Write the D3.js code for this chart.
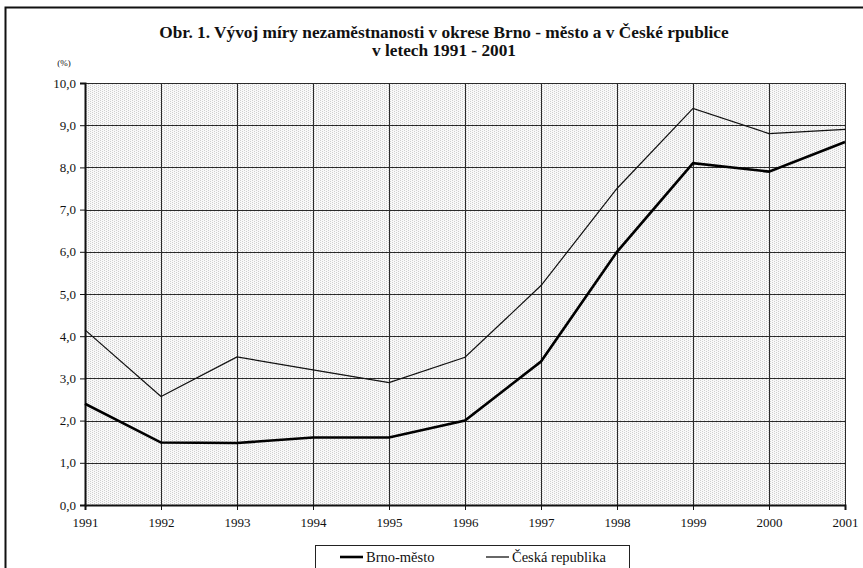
<!DOCTYPE html>
<html>
<head>
<meta charset="utf-8">
<script src="https://cdn.jsdelivr.net/npm/d3@7/dist/d3.min.js"></script>
<style>
  html, body { margin: 0; padding: 0; background: #fff; }
  svg { display: block; }
  svg text { font-family: "Liberation Serif", "Times New Roman", serif; }
</style>
</head>
<body>
<svg id="chart" width="863" height="568"></svg>
<script>
// Unemployment rate (%) by year
const years = [1991, 1992, 1993, 1994, 1995, 1996, 1997, 1998, 1999, 2000, 2001];
const brno = [2.4, 1.48, 1.47, 1.6, 1.6, 2.0, 3.4, 6.0, 8.1, 7.9, 8.6];
const cr = [4.15, 2.57, 3.51, 3.2, 2.9, 3.5, 5.2, 7.5, 9.4, 8.8, 8.9];
const yTicks = [0, 1, 2, 3, 4, 5, 6, 7, 8, 9, 10];
const seriesNames = ["Brno-město", "Česká republika"];
const titleLines = ["Obr. 1. Vývoj míry nezaměstnanosti v okrese Brno - město a v České rpublice", "v letech 1991 - 2001"];

const serif = "'Liberation Serif', 'Times New Roman', serif";
const svg = d3.select("#chart");
const plot = { left: 85, right: 845, top: 83, bottom: 505 };

const x = d3.scaleLinear().domain([1991, 2001]).range([plot.left, plot.right]);
const y = d3.scaleLinear().domain([0, 10]).range([plot.bottom, plot.top]);

// Outer frame (continues past the right and bottom edges)
svg.append("rect")
  .attr("x", 5.5).attr("y", 7.5)
  .attr("width", 900).attr("height", 600)
  .attr("fill", "none").attr("stroke", "#111").attr("stroke-width", 2);

// Dotted plot background
const defs = svg.append("defs");
const pat = defs.append("pattern")
  .attr("id", "dots").attr("patternUnits", "userSpaceOnUse")
  .attr("width", 4).attr("height", 2);
pat.append("rect").attr("width", 4).attr("height", 2).attr("fill", "#f8f8f8");
pat.append("rect").attr("x", 0).attr("y", 0).attr("width", 1).attr("height", 1).attr("fill", "#cfcfcf");
pat.append("rect").attr("x", 2).attr("y", 1).attr("width", 1).attr("height", 1).attr("fill", "#cfcfcf");

svg.append("rect")
  .attr("x", plot.left).attr("y", plot.top)
  .attr("width", plot.right - plot.left).attr("height", plot.bottom - plot.top)
  .attr("fill", "url(#dots)");

// Grid
const grid = svg.append("g").attr("stroke", "#2a2a2a").attr("stroke-width", 1);
grid.selectAll("line.h").data(yTicks.slice(1)).join("line")
  .attr("x1", plot.left).attr("x2", plot.right)
  .attr("y1", d => Math.round(y(d)) + 0.5).attr("y2", d => Math.round(y(d)) + 0.5);
grid.selectAll("line.v").data(years.slice(1)).join("line")
  .attr("y1", plot.top).attr("y2", plot.bottom)
  .attr("x1", d => Math.round(x(d)) + 0.5).attr("x2", d => Math.round(x(d)) + 0.5);

// Axes
const yAxis = svg.append("g")
  .attr("transform", `translate(${plot.left},0)`)
  .call(d3.axisLeft(y).tickValues(yTicks).tickSize(5).tickPadding(4)
    .tickFormat(d => d3.format(".1f")(d).replace(".", ",")));
const xAxis = svg.append("g")
  .attr("transform", `translate(0,${plot.bottom})`)
  .call(d3.axisBottom(x).tickValues(years).tickSize(5).tickPadding(8)
    .tickFormat(d3.format("d")));
[yAxis, xAxis].forEach(a => {
  a.attr("font-family", serif).attr("font-size", 13);
  a.select(".domain").attr("stroke", "#111").attr("stroke-width", 2);
  a.selectAll(".tick line").attr("stroke", "#111");
  a.selectAll("text").attr("fill", "#111").style("font-size", "13px");
});

// Series lines
const line = d3.line().x((d, i) => x(years[i])).y(d => y(d));
svg.append("path").datum(cr).attr("d", line)
  .attr("fill", "none").attr("stroke", "#111").attr("stroke-width", 1.2);
svg.append("path").datum(brno).attr("d", line)
  .attr("fill", "none").attr("stroke", "#000").attr("stroke-width", 2.6)
  .attr("stroke-linejoin", "miter");

// Title
svg.append("text")
  .attr("x", 444).attr("text-anchor", "middle").attr("font-family", serif)
  .attr("font-weight", "bold").attr("font-size", 17.3).attr("fill", "#111")
  .selectAll("tspan").data(titleLines).join("tspan")
  .attr("x", 444).attr("y", (d, i) => 38 + i * 18).text(d => d);

// Unit label
svg.append("text").attr("x", 64).attr("y", 66).attr("text-anchor", "middle")
  .attr("font-family", serif).attr("font-size", 9).attr("fill", "#111").text("(%)");

// Legend
const lg = svg.append("g").attr("font-family", serif);
lg.append("rect").attr("x", 315.5).attr("y", 545.5).attr("width", 314).attr("height", 40)
  .attr("fill", "#fff").attr("stroke", "#222").attr("stroke-width", 1);
const legendItems = [
  { name: seriesNames[0], x: 340, w: 2.6 },
  { name: seriesNames[1], x: 486, w: 1.2 }
];
legendItems.forEach(it => {
  lg.append("line").attr("x1", it.x).attr("x2", it.x + 23)
    .attr("y1", 557).attr("y2", 557).attr("stroke", "#000").attr("stroke-width", it.w);
  lg.append("text").attr("x", it.x + 26).attr("y", 562)
    .attr("font-size", 14.5).attr("fill", "#111").text(it.name);
});
</script>
</body>
</html>
